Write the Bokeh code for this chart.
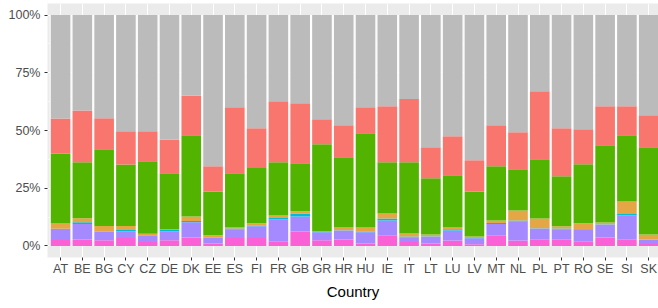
import numpy as np
from bokeh.plotting import figure
from bokeh.models import Range1d, FixedTicker, NumeralTickFormatter, ColumnDataSource
from bokeh.embed import file_html
from bokeh.resources import INLINE

countries = ["AT", "BE", "BG", "CY", "CZ", "DE", "DK", "EE", "ES", "FI", "FR", "GB", "GR", "HR",
             "HU", "IE", "IT", "LT", "LU", "LV", "MT", "NL", "PL", "PT", "RO", "SE", "SI", "SK"]

# shares (in %) from bottom to top of each bar
pink   = [2.6, 2.8, 2.5, 3.4, 1.7, 2.5, 3.7, 1.1, 3.4, 3.4, 2.0, 6.3, 2.5, 2.8,
          1.1, 4.6, 1.7, 1.1, 2.4, 0.7, 4.4, 2.4, 2.7, 2.7, 2.0, 3.7, 2.7, 0.8]
purple = [4.4, 6.7, 3.8, 3.0, 2.7, 3.9, 6.6, 2.6, 3.8, 5.1, 9.5, 6.5, 3.4, 3.9,
          4.8, 6.4, 2.0, 3.0, 4.3, 2.6, 5.1, 8.2, 4.9, 4.5, 5.2, 5.6, 10.5, 1.9]
cyan   = [0.4, 0.8, 0.1, 0.5, 0.2, 0.5, 0.5, 0.1, 0.4, 0.4, 0.6, 1.3, 0.1, 0.1,
          0.4, 0.9, 0.4, 0.1, 0.5, 0.1, 0.4, 0.4, 0.1, 0.4, 0.1, 0.1, 0.6, 0.1]
orange = [2.3, 1.7, 2.2, 1.7, 0.7, 0.4, 2.0, 0.8, 0.4, 0.9, 1.1, 0.9, 0.3, 1.2,
          1.7, 2.2, 1.3, 0.8, 0.8, 0.7, 1.1, 4.4, 4.2, 0.9, 2.5, 0.8, 5.5, 2.2]
green  = [30.2, 24.2, 33.3, 26.7, 31.4, 24.2, 35.1, 19.0, 23.5, 24.0, 23.0, 20.8, 37.7, 30.4,
          40.8, 22.1, 30.8, 24.3, 22.6, 19.5, 23.5, 17.8, 25.6, 21.7, 25.6, 33.4, 28.6, 37.7]
salmon = [15.3, 22.5, 13.4, 14.4, 13.0, 14.5, 17.2, 10.9, 28.6, 17.2, 26.5, 26.0, 10.9, 13.9,
          11.3, 24.3, 27.4, 13.4, 16.9, 13.5, 17.8, 16.0, 29.5, 20.8, 15.1, 16.9, 12.6, 13.9]
gray   = [44.8, 41.3, 44.7, 50.3, 50.3, 54.0, 34.9, 65.5, 39.9, 49.0, 37.3, 38.2, 45.1, 47.7,
          39.9, 39.5, 36.4, 57.3, 52.5, 62.9, 47.7, 50.8, 33.0, 49.0, 49.5, 39.5, 39.5, 43.4]

series = ["pink", "purple", "cyan", "orange", "green", "salmon", "gray"]
values = [pink, purple, cyan, orange, green, salmon, gray]
colors = ["#FB61D7", "#A58AFF", "#00BCD6", "#E5A646", "#53B400", "#F8766D", "#BBBBBB"]

x = np.arange(1, len(countries) + 1)
arr = np.array(values, dtype=float)
arr = arr / arr.sum(axis=0)           # position = "fill"
cum = np.cumsum(arr, axis=0)

p = figure(width=658, height=308, output_backend="svg", toolbar_location=None,
           x_range=Range1d(0.4, 28.45), y_range=Range1d(-0.05, 1.05),
           min_border_left=47, min_border_right=0, min_border_top=3, min_border_bottom=51)

p.background_fill_color = "#EBEBEB"
p.border_fill_color = "white"
p.outline_line_color = None

# white backing inside the bar range (gaps between bars appear white)
p.vbar(x=x, top=np.ones(len(x)), bottom=np.zeros(len(x)), width=1.0,
       fill_color="white", line_color=None)

for i, name in enumerate(series):
    bottom = cum[i - 1] if i > 0 else np.zeros(len(x))
    src = ColumnDataSource(dict(x=x, top=cum[i], bottom=bottom))
    p.vbar(x="x", top="top", bottom="bottom", width=0.9, source=src,
           fill_color=colors[i], line_color=None)

# grid
p.xgrid.ticker = FixedTicker(ticks=list(x))
p.xgrid.grid_line_color = "white"
p.xgrid.grid_line_width = 1.1
p.ygrid.ticker = FixedTicker(ticks=[0, 0.25, 0.5, 0.75, 1.0],
                             minor_ticks=[0.125, 0.375, 0.625, 0.875])
p.ygrid.grid_line_color = "white"
p.ygrid.grid_line_width = 1.1
p.ygrid.minor_grid_line_color = "white"
p.ygrid.minor_grid_line_width = 0.55
p.xgrid.level = "underlay"
p.ygrid.level = "underlay"

# axes
p.xaxis.ticker = FixedTicker(ticks=list(x))
p.xaxis.major_label_overrides = {int(v): c for v, c in zip(x, countries)}
p.yaxis.ticker = FixedTicker(ticks=[0, 0.25, 0.5, 0.75, 1.0])
p.yaxis.formatter = NumeralTickFormatter(format="0%")

for ax in (p.xaxis[0], p.yaxis[0]):
    ax.axis_line_color = None
    ax.major_tick_line_color = "#333333"
    ax.major_tick_line_width = 1
    ax.major_tick_in = 0
    ax.major_tick_out = 3
    ax.minor_tick_line_color = None
    ax.major_label_text_font = "Liberation Sans"
    ax.major_label_text_font_size = "12.5px"
    ax.major_label_text_color = "#4D4D4D"

p.xaxis.major_label_standoff = 1
p.yaxis.major_label_standoff = 4

p.xaxis.axis_label = "Country"
p.xaxis.axis_label_text_font = "Liberation Sans"
p.xaxis.axis_label_text_font_size = "15px"
p.xaxis.axis_label_text_font_style = "normal"
p.xaxis.axis_label_text_color = "black"
p.xaxis.axis_label_standoff = 4

open("out.html", "w").write(file_html(p, INLINE))
